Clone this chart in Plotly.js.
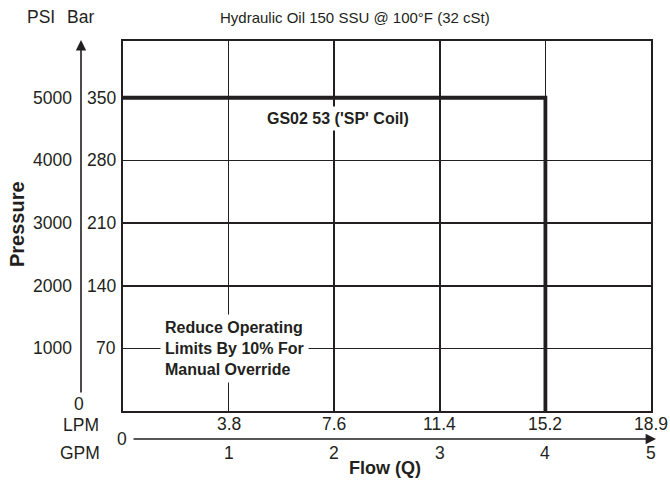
<!DOCTYPE html>
<html>
<head>
<meta charset="utf-8">
<script src="https://cdn.plot.ly/plotly-3.0.1.min.js"></script>
<style>html,body{margin:0;padding:0;background:#fff;}#chart{width:670px;height:480px;}</style>
</head>
<body>
<div id="chart"></div>
<script>
// ---- data ----
var gpmTicks = [1, 2, 3, 4, 5];
var lpmTicks = ["3.8", "7.6", "11.4", "15.2", "18.9"];
var psiTicks = [1000, 2000, 3000, 4000, 5000];
var barTicks = ["70", "140", "210", "280", "350"];
var limitFlowGpm = [0, 4, 4];
var limitPsi = [5000, 5000, 0];
var titleText = "Hydraulic Oil 150 SSU @ 100°F (32 cSt)";
var curveLabel = "GS02 53 ('SP' Coil)";
var noteText = "Reduce Operating<br>Limits By 10% For<br>Manual Override";

var ink = '#231f20';
var W = 670, H = 480, L = 123, R = 651, T = 41, B = 411;
function px2x(p) { return (p - L) / (R - L); }
function py2y(p) { return (B - p) / (B - T); }

var fam = 'Liberation Sans, Arial, sans-serif';
var ann = [];
var f18 = {family: fam, size: 17.5, color: ink};
psiTicks.forEach(function (v, i) {
  ann.push({xref: 'paper', yref: 'y', x: px2x(74), y: v, text: String(v), showarrow: false, xanchor: 'right', yanchor: 'middle', font: f18});
  ann.push({xref: 'paper', yref: 'y', x: px2x(118), y: v, text: barTicks[i], showarrow: false, xanchor: 'right', yanchor: 'middle', font: f18});
});
gpmTicks.forEach(function (v, i) {
  ann.push({xref: 'x', yref: 'paper', x: v, y: py2y(424), text: lpmTicks[i], showarrow: false, xanchor: 'center', yanchor: 'middle', font: f18});
  ann.push({xref: 'x', yref: 'paper', x: v, y: py2y(453), text: String(v), showarrow: false, xanchor: 'center', yanchor: 'middle', font: f18});
});
// axis zeros and unit labels
ann.push({xref: 'paper', yref: 'paper', x: px2x(79), y: py2y(404), text: '0', showarrow: false, xanchor: 'center', yanchor: 'middle', font: f18});
ann.push({xref: 'paper', yref: 'paper', x: px2x(81), y: py2y(425), text: 'LPM', showarrow: false, xanchor: 'center', yanchor: 'middle', font: f18});
ann.push({xref: 'paper', yref: 'paper', x: px2x(80), y: py2y(453), text: 'GPM', showarrow: false, xanchor: 'center', yanchor: 'middle', font: f18});
ann.push({xref: 'paper', yref: 'paper', x: px2x(122), y: py2y(439), text: '0', showarrow: false, xanchor: 'center', yanchor: 'middle', font: f18});
ann.push({xref: 'paper', yref: 'paper', x: px2x(41), y: py2y(17), text: 'PSI', showarrow: false, xanchor: 'center', yanchor: 'middle', font: f18});
ann.push({xref: 'paper', yref: 'paper', x: px2x(80), y: py2y(17), text: 'Bar', showarrow: false, xanchor: 'center', yanchor: 'middle', font: f18});
ann.push({xref: 'paper', yref: 'paper', x: px2x(355), y: py2y(17), text: titleText, showarrow: false, xanchor: 'center', yanchor: 'middle', font: {family: fam, size: 15, color: ink}});
// axis titles
ann.push({xref: 'paper', yref: 'paper', x: px2x(17), y: py2y(224), text: '<b>Pressure</b>', textangle: -90, showarrow: false, xanchor: 'center', yanchor: 'middle', font: {family: fam, size: 20, color: ink}});
ann.push({xref: 'paper', yref: 'paper', x: px2x(385), y: py2y(468), text: '<b>Flow (Q)</b>', showarrow: false, xanchor: 'center', yanchor: 'middle', borderpad: 0, font: {family: fam, size: 18, color: ink}});
// arrows
ann.push({xref: 'paper', yref: 'paper', x: px2x(81), y: py2y(40), ax: 0, ay: 354, axref: 'pixel', ayref: 'pixel', text: '', showarrow: true, arrowhead: 2, arrowsize: 1.3, arrowwidth: 1.6, arrowcolor: ink, standoff: 0, startstandoff: 0});
ann.push({xref: 'paper', yref: 'paper', x: px2x(656), y: py2y(439), ax: -524, ay: 0, axref: 'pixel', ayref: 'pixel', text: '', showarrow: true, arrowhead: 2, arrowsize: 1.3, arrowwidth: 1.6, arrowcolor: ink, standoff: 0, startstandoff: 0});
// in-plot labels
ann.push({xref: 'paper', yref: 'paper', x: px2x(338), y: py2y(119), text: '<b>' + curveLabel + '</b>', showarrow: false, xanchor: 'center', yanchor: 'middle', bgcolor: '#fff', borderpad: 3, font: {family: fam, size: 16, color: ink}});
ann.push({xref: 'paper', yref: 'paper', x: px2x(160), y: py2y(348), text: '<b>' + noteText + '</b>', align: 'left', showarrow: false, xanchor: 'left', yanchor: 'middle', bgcolor: '#fff', borderpad: 4, font: {family: fam, size: 16, color: ink}});

var data = [{
  type: 'scatter', mode: 'lines', x: limitFlowGpm, y: limitPsi,
  line: {color: ink, width: 3.8}, hoverinfo: 'skip', showlegend: false, cliponaxis: false
}];

var layout = {
  width: W, height: H,
  margin: {l: L, r: W - R, t: T, b: H - B, pad: 0},
  paper_bgcolor: '#fff', plot_bgcolor: '#fff',
  showlegend: false,
  xaxis: {range: [0, 5], tickvals: [1, 2, 3, 4], showticklabels: false, ticks: '', showgrid: true, gridcolor: ink, gridwidth: 1.6, zeroline: false, showline: true, mirror: true, linecolor: ink, linewidth: 2, fixedrange: true},
  yaxis: {range: [0, 5906], tickvals: [1000, 2000, 3000, 4000], showticklabels: false, ticks: '', showgrid: true, gridcolor: ink, gridwidth: 1.6, zeroline: false, showline: true, mirror: true, linecolor: ink, linewidth: 2, fixedrange: true},
  annotations: ann
};
Plotly.newPlot('chart', data, layout, {staticPlot: true, displayModeBar: false});
</script>
</body>
</html>
